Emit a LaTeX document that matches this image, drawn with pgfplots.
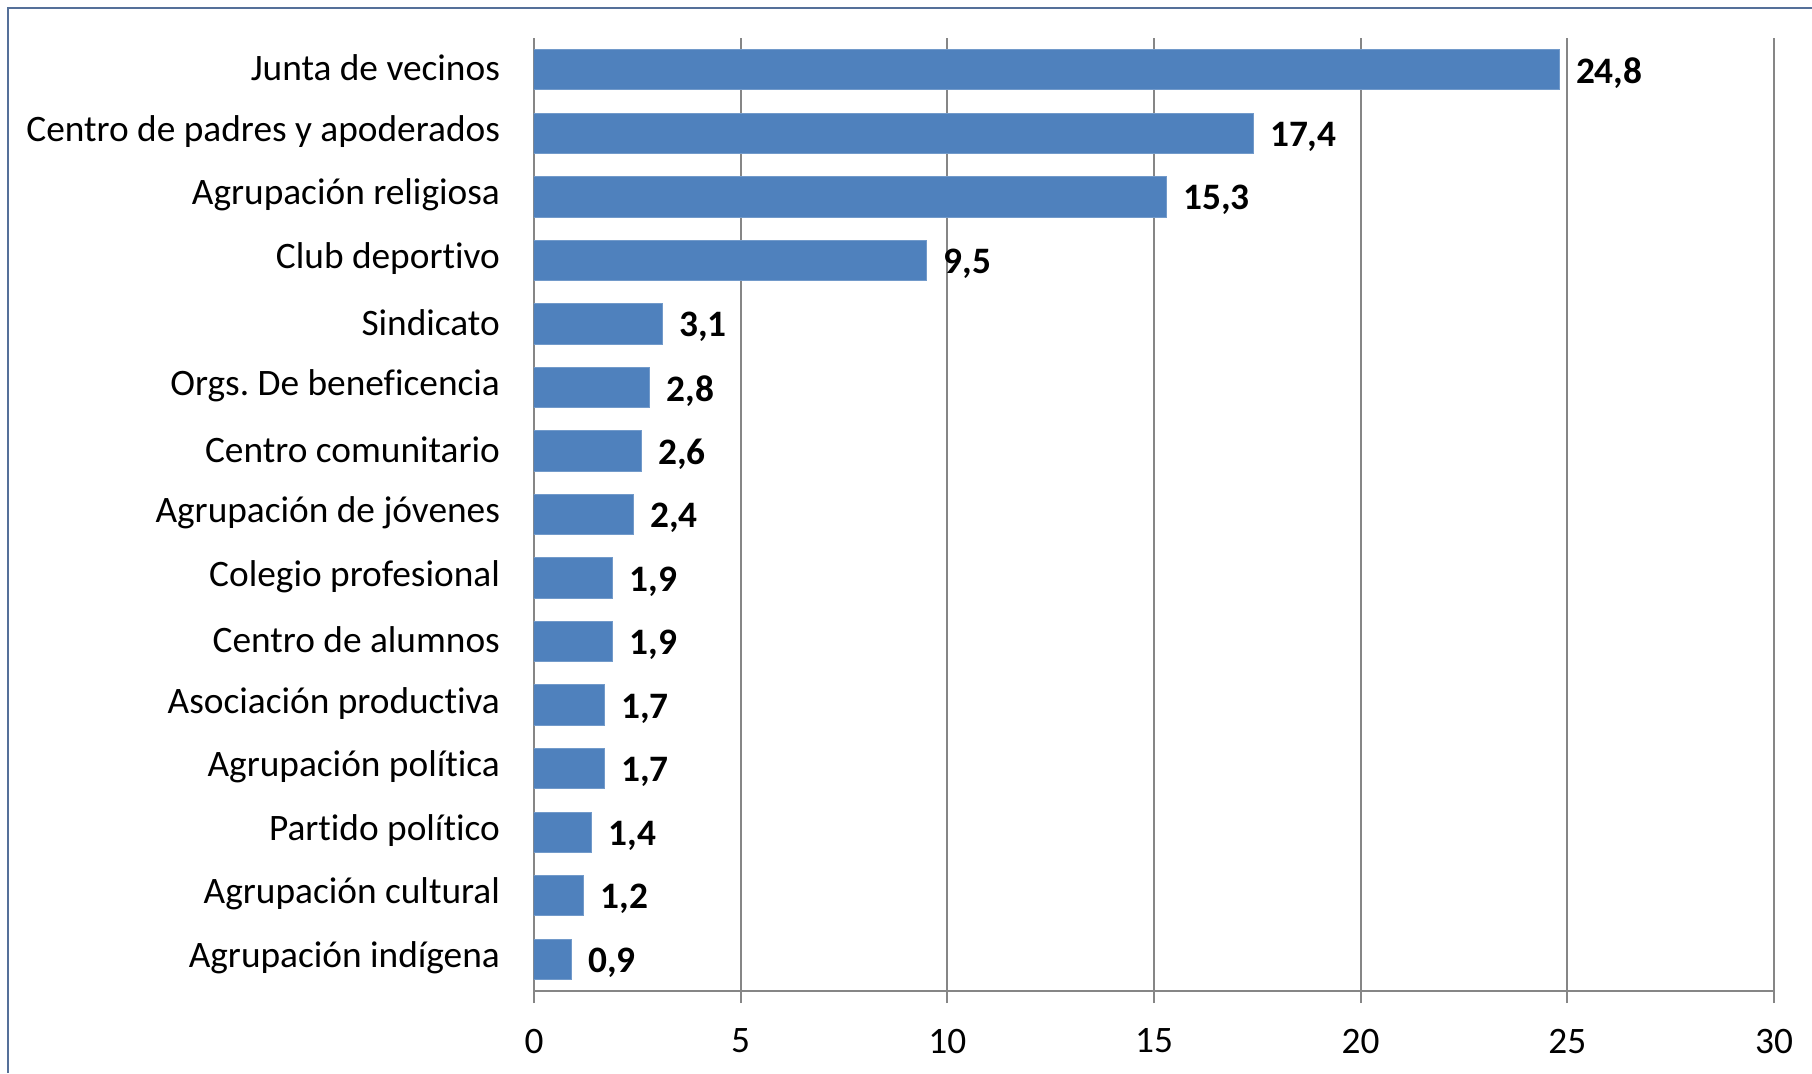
\documentclass[border=0pt]{standalone}
\usepackage{fontspec}
\setmainfont{Carlito}[Ligatures=NoCommon]
\usepackage{pgfplots}
\pgfplotsset{compat=1.18}
\definecolor{barblue}{HTML}{4F81BD}
\definecolor{gridgray}{HTML}{868686}
\definecolor{framec}{HTML}{557099}
\begin{document}
\frenchspacing
\begin{tikzpicture}[font=\fontsize{11.2}{13}\selectfont]
\useasboundingbox (0,0) rectangle (543.6pt,321.9pt);
\draw[framec, line width=0.6pt] (2.4pt,0) -- (2.4pt,319.5pt) -- (543.6pt,319.5pt);
\begin{axis}[
  at={(160.2pt,24.6pt)}, anchor=south west,
  scale only axis, width=372pt, height=285.9pt,
  xmin=0, xmax=30, ymin=-0.5, ymax=14.5, y dir=reverse,
  xbar, bar width=12.1pt,
  axis x line*=bottom, axis y line*=left,
  axis line style={gridgray, line width=0.6pt, -},
  xtick={0,5,...,30},
  xmajorgrids, major grid style={gridgray, line width=0.6pt},
  tick align=outside,
  major tick length=3.6pt,
  xtick style={gridgray, line width=0.6pt},
  ytick={0,...,14},
  ytick style={draw=none},
  minor ytick={-0.5,0.5,...,14.5},
  minor tick length=3.6pt,
  minor y tick style={gridgray, line width=0.6pt},
  yticklabels={Junta de vecinos, Centro de padres y apoderados, Agrupación religiosa, Club deportivo, Sindicato, Orgs. De beneficencia, Centro comunitario, Agrupación de jóvenes, Colegio profesional, Centro de alumnos, Asociación productiva, Agrupación política, Partido político, Agrupación cultural, Agrupación indígena},
  tick label style={font=\fontsize{11.2}{13}\selectfont, text=black},
  yticklabel style={xshift=-3.1pt, yshift=0.5pt},
  xticklabel style={yshift=-4.2pt},
  /pgf/number format/assume math mode=true,
  point meta=x,
  nodes near coords={\pgfmathprintnumber[fixed,precision=1,fixed zerofill,use comma]{\pgfplotspointmeta}},
  every node near coord/.append style={font=\fontsize{11.2}{13}\selectfont\bfseries, anchor=west, xshift=1.6pt, yshift=-1pt, text=black},
]
\addplot[fill=barblue, draw=barblue!80!white, line width=0.3pt] coordinates {
(24.8,0) (17.4,1) (15.3,2) (9.5,3) (3.1,4) (2.8,5) (2.6,6) (2.4,7) (1.9,8) (1.9,9) (1.7,10) (1.7,11) (1.4,12) (1.2,13) (0.9,14)
};
\end{axis}
\end{tikzpicture}
\end{document}
